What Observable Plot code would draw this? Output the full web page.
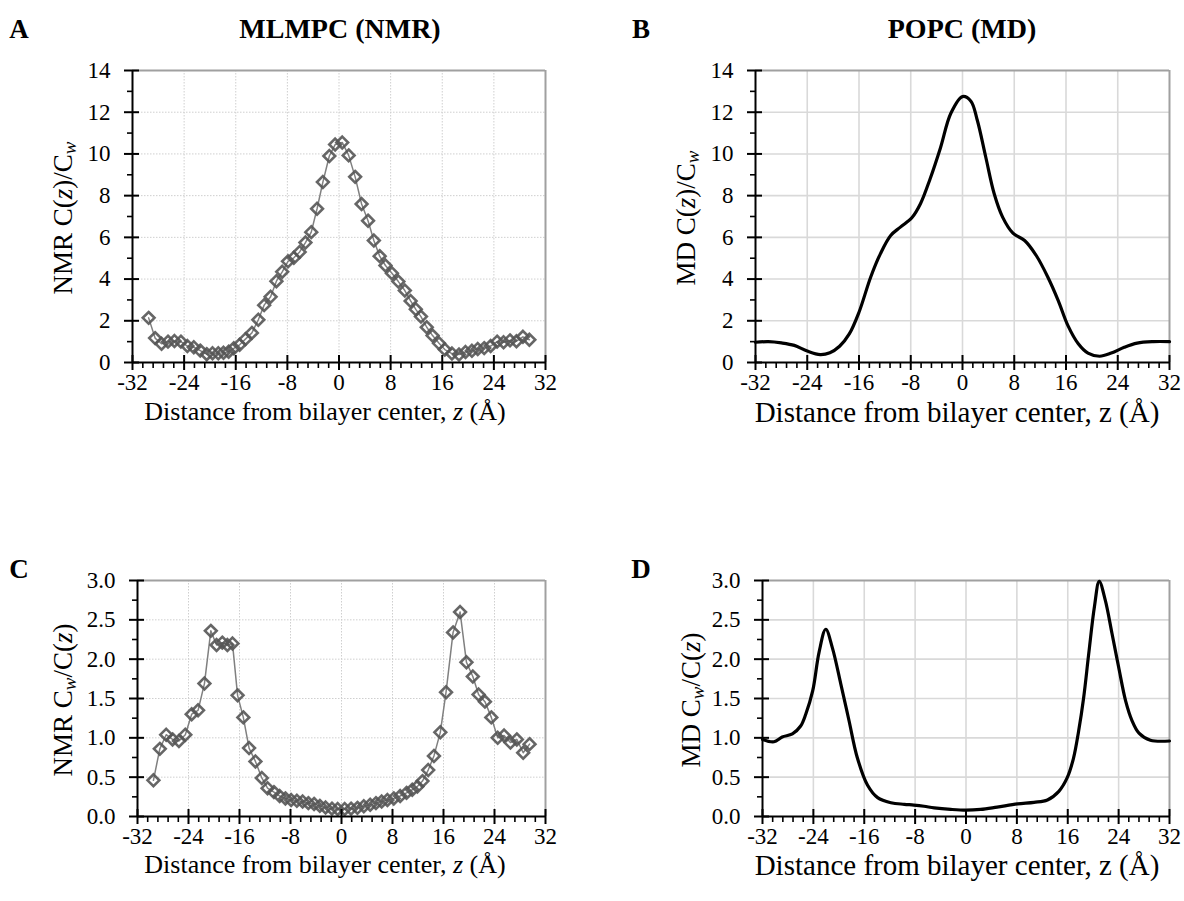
<!DOCTYPE html>
<html><head><meta charset="utf-8">
<script src="https://cdn.jsdelivr.net/npm/d3@7"></script>
<script src="https://cdn.jsdelivr.net/npm/@observablehq/plot@0.6"></script>
<style>
body{margin:0;background:#fff;}
#fig{position:relative;width:1184px;height:901px;font-family:"Liberation Serif",serif;color:#000;overflow:hidden;}
.p{position:absolute;}
.t{position:absolute;white-space:nowrap;transform:translate(-50%,-50%);line-height:1;}
.r{transform:translate(-50%,-50%) rotate(-90deg);}
.b{font-weight:bold;}
sub{font-size:70%;vertical-align:-0.25em;line-height:0;}
</style></head><body><div id="fig"></div>
<script>
// ---- data ----
const xTicks = [-32, -24, -16, -8, 0, 8, 16, 24, 32];
const yTicksTop = [0, 2, 4, 6, 8, 10, 12, 14];
const yTicksBottom = [0, 0.5, 1.0, 1.5, 2.0, 2.5, 3.0];

// NMR (MLMPC) positions, Å
const nmrZ = [-29.5, -28.5, -27.5, -26.5, -25.5, -24.5, -23.5, -22.5, -21.5, -20.5,
  -19.6, -18.7, -17.9, -17.1, -16.3, -15.4, -14.5, -13.5, -12.5, -11.6, -10.6,
  -9.7, -8.8, -7.9, -7.0, -6.1, -5.2, -4.3, -3.4, -2.5, -1.5, -0.6,
  0.5, 1.5, 2.5, 3.5, 4.5, 5.4, 6.3, 7.2, 8.2, 9.2, 10.2,
  11.1, 11.9, 12.7, 13.6, 14.5, 15.5, 16.4, 17.5, 18.6, 19.6, 20.6,
  21.5, 22.5, 23.5, 24.5, 25.5, 26.5, 27.5, 28.5, 29.5];
// NMR C(z)/Cw
const nmrCzCw = [2.14, 1.17, 0.90, 1.00, 1.03, 1.00, 0.79, 0.73, 0.57, 0.40,
  0.44, 0.44, 0.47, 0.52, 0.68, 0.85, 1.12, 1.42, 2.05, 2.75, 3.15,
  3.9, 4.35, 4.85, 5.02, 5.3, 5.75, 6.25, 7.37, 8.65, 9.9, 10.45,
  10.55, 9.93, 8.9, 7.6, 6.8, 5.85, 5.1, 4.65, 4.28, 3.88, 3.45,
  2.95, 2.55, 2.2, 1.69, 1.29, 0.92, 0.62, 0.43, 0.38, 0.50, 0.56,
  0.65, 0.69, 0.79, 1.00, 0.97, 1.06, 1.02, 1.23, 1.09];
// NMR Cw/C(z)
const nmrCwCz = [0.46, 0.86, 1.04, 0.98, 0.96, 1.04, 1.30, 1.35, 1.69, 2.36,
  2.18, 2.21, 2.18, 2.20, 1.54, 1.26, 0.87, 0.70, 0.49, 0.36, 0.31,
  0.26, 0.23, 0.21, 0.20, 0.19, 0.17, 0.16, 0.135, 0.115, 0.10, 0.095,
  0.095, 0.10, 0.11, 0.13, 0.15, 0.17, 0.19, 0.21, 0.23, 0.26, 0.30,
  0.34, 0.38, 0.45, 0.59, 0.77, 1.07, 1.58, 2.34, 2.60, 1.96, 1.78,
  1.55, 1.46, 1.26, 1.00, 1.03, 0.94, 0.98, 0.81, 0.92];

// MD (POPC) C(z)/Cw
const mdZ1 = [-32, -30, -28, -26, -24, -22, -20.5, -19, -17.5, -16, -14.2, -12.7, -11.1, -9.6,
  -7.8, -6.5, -5, -3.4, -1.8, 0, 1.3, 2.3, 3.6, 4.9, 6.2, 7.8, 9.6, 11.4, 13.2, 14.8,
  16.3, 17.9, 19.4, 21.2, 23, 25, 27, 29.5, 32];
const mdCzCw = [0.97, 1.0, 0.94, 0.82, 0.55, 0.38, 0.47, 0.78, 1.37, 2.41, 4.09, 5.21, 6.09, 6.49,
  6.95, 7.61, 8.81, 10.3, 11.95, 12.75, 12.53, 11.6, 9.84, 8.09, 6.97, 6.2, 5.85, 5.13, 4.09, 2.97,
  1.77, 0.9, 0.45, 0.3, 0.45, 0.73, 0.93, 1.0, 1.0];
// MD Cw/C(z)
const mdZ2 = [-32, -30.2, -28.9, -27.3, -26, -25.2, -24.1, -23.1, -22.05, -21, -19.7, -18.4, -17.1,
  -15.5, -13.9, -11.8, -9.7, -8.2, -6.6, -5, -2.4, 0, 2.3, 4.9, 8.1, 10.7, 12.8, 14.6, 15.9,
  16.9, 17.7, 18.5, 19.3, 20.2, 20.95, 21.9, 22.95, 24, 25.1, 26.1, 27.2, 29, 32];
const mdCwCz = [0.98, 0.95, 1.01, 1.05, 1.15, 1.30, 1.60, 2.09, 2.38, 2.14, 1.69, 1.22, 0.75,
  0.40, 0.24, 0.175, 0.155, 0.145, 0.13, 0.11, 0.09, 0.08, 0.09, 0.12, 0.16, 0.18, 0.21, 0.32, 0.49,
  0.74, 1.08, 1.51, 2.07, 2.67, 2.99, 2.75, 2.33, 1.9, 1.47, 1.22, 1.06, 0.97, 0.96];

// ---- helpers ----
const fig = document.getElementById("fig");
const xMinor = d3.range(-32, 32.001, 1.6).map(v => Math.round(v * 10) / 10).filter(v => Math.abs(v % 8) > 1e-6);

function panel(o) {
  const data = o.z.map((z, i) => ({z, v: o.v[i]}));
  const yMax = o.yDomain[1];
  const grid = o.dotted
    ? {stroke: "#cfcfcf", strokeOpacity: 1, strokeWidth: 1, strokeDasharray: "1.5,1.5"}
    : {stroke: "#d9d9d9", strokeOpacity: 1, strokeWidth: 1.6};
  const marks = [
    Plot.gridX(xTicks.filter(d => d > -32 && d < 32), grid),
    Plot.gridY(o.yTicks.filter(d => d > 0 && d < yMax), grid),
    Plot.ruleY([yMax], {stroke: "#a0a0a0", strokeWidth: 2}),
    Plot.ruleX([32], {stroke: "#a0a0a0", strokeWidth: 2}),
  ];
  if (o.nmr) {
    marks.push(Plot.line(data, {x: "z", y: "v", stroke: "#808080", strokeWidth: 1.5}));
    marks.push(Plot.dot(data, {x: "z", y: "v", symbol: "diamond2", r: 5.3, fill: "none", stroke: "#555", strokeOpacity: 0.9, strokeWidth: 2.6}));
  } else {
    marks.push(Plot.line(data, {x: "z", y: "v", stroke: "#000", strokeWidth: 3.2, strokeLinejoin: "round", curve: "catmull-rom"}));
  }
  marks.push(
    Plot.ruleX([-32], {stroke: "#000", strokeWidth: 2}),
    Plot.ruleY([0], {stroke: "#000", strokeWidth: 2}),
    Plot.ruleX(xTicks, {y1: 0, y2: 0, insetTop: -7, insetBottom: -8, stroke: "#000", strokeWidth: 2}),
    Plot.ruleX(xMinor, {y1: 0, y2: 0, insetTop: 0, insetBottom: -6, stroke: "#000", strokeWidth: 1.6}),
    Plot.ruleY(o.yTicks, {x1: -32, x2: -32, insetLeft: -8, insetRight: -7, stroke: "#000", strokeWidth: 2}),
    Plot.ruleY(o.yMinor, {x1: -32, x2: -32, insetLeft: -5, insetRight: 0, stroke: "#000", strokeWidth: 1.6}),
    Plot.axisX(xTicks, {tickSize: 0, tickPadding: 11, tickFormat: d => String(d), label: null, fontSize: 23}),
    Plot.axisY(o.yTicks, {tickSize: 0, tickPadding: 22, tickFormat: o.yFmt, label: null, fontSize: 23})
  );
  const svg = Plot.plot({
    width: o.w, height: o.h,
    marginLeft: o.mL, marginRight: o.mR, marginTop: o.mT, marginBottom: o.mB,
    x: {domain: [-32, 32]},
    y: {domain: o.yDomain},
    style: {fontFamily: "'Liberation Serif', serif", fontSize: "23px", background: "transparent", overflow: "visible", color: "#000"},
    marks
  });
  const div = document.createElement("div");
  div.className = "p";
  div.style.left = o.left + "px";
  div.style.top = o.top + "px";
  div.appendChild(svg);
  fig.appendChild(div);
}

function text(html, x, y, size, cls) {
  const d = document.createElement("div");
  d.className = "t " + (cls || "");
  d.style.left = x + "px";
  d.style.top = y + "px";
  d.style.fontSize = size + "px";
  d.innerHTML = html;
  fig.appendChild(d);
}

const fmtInt = d => String(d);
const fmt1 = d => d.toFixed(1);
const minorTop = [1, 3, 5, 7, 9, 11, 13];
const minorBottom = [0.25, 0.75, 1.25, 1.75, 2.25, 2.75];

// A
panel({z: nmrZ, v: nmrCzCw, nmr: true, dotted: true, yDomain: [0, 14], yTicks: yTicksTop, yMinor: minorTop, yFmt: fmtInt,
  left: 0, top: 0, w: 592, h: 440, mL: 132, mR: 47, mT: 70, mB: 78});
// B
panel({z: mdZ1, v: mdCzCw, nmr: false, dotted: false, yDomain: [0, 14], yTicks: yTicksTop, yMinor: minorTop, yFmt: fmtInt,
  left: 592, top: 0, w: 592, h: 440, mL: 163, mR: 15, mT: 70, mB: 78});
// C
panel({z: nmrZ, v: nmrCwCz, nmr: true, dotted: true, yDomain: [0, 3], yTicks: yTicksBottom, yMinor: minorBottom, yFmt: fmt1,
  left: 0, top: 450, w: 592, h: 450, mL: 137, mR: 47, mT: 130, mB: 84});
// D
panel({z: mdZ2, v: mdCwCz, nmr: false, dotted: false, yDomain: [0, 3], yTicks: yTicksBottom, yMinor: minorBottom, yFmt: fmt1,
  left: 592, top: 450, w: 592, h: 450, mL: 170, mR: 15, mT: 130, mB: 84});

// titles and labels
text("A", 19, 29, 27, "b");
text("B", 641, 29, 27, "b");
text("C", 19, 569, 27, "b");
text("D", 641, 569, 27, "b");
text("MLMPC (NMR)", 340, 29, 28, "b");
text("POPC (MD)", 962, 29, 28, "b");

text("Distance from bilayer center, <i>z</i> (Å)", 325, 412, 26);
text("Distance from bilayer center, z (Å)", 957, 412, 29);
text("Distance from bilayer center, <i>z</i> (Å)", 325, 865, 26);
text("Distance from bilayer center, z (Å)", 957, 865, 29);

text("NMR C(<i>z</i>)/C<sub><i>w</i></sub>", 63, 218, 27, "r");
text("MD C(<i>z</i>)/C<sub><i>w</i></sub>", 686, 218, 27, "r");
text("NMR C<sub><i>w</i></sub>/C(<i>z</i>)", 63, 700, 27, "r");
text("MD C<sub><i>w</i></sub>/C(<i>z</i>)", 691, 700, 27, "r");
</script></body></html>
